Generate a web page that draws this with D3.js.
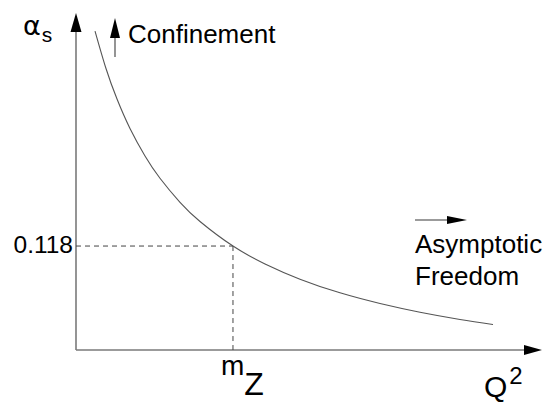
<!DOCTYPE html>
<html>
<head>
<meta charset="utf-8">
<script src="https://cdn.jsdelivr.net/npm/d3@7"></script>
<style>
  html, body { margin: 0; padding: 0; background: #fff; }
  svg { display: block; }
  text { font-family: "Liberation Sans", Arial, Helvetica, sans-serif; fill: #000; }
</style>
</head>
<body>
<svg id="chart" width="543" height="403"></svg>
<script>
// Running coupling alpha_s as a function of Q^2 (schematic units)
const q2Values = [4.09, 6.45, 8.82, 11.61, 14.84, 18.06, 22.37, 26.67, 33.76, 40.65, 48.17, 56.77, 65.38, 73.98, 82.58, 89.68];
const alphaValues = [0.362, 0.3195, 0.2848, 0.2514, 0.2202, 0.1949, 0.1676, 0.1459, 0.118, 0.0977, 0.0804, 0.0649, 0.0528, 0.0429, 0.0347, 0.0289];

// Reference point at the Z mass
const refQ2 = [33.76];
const refAlpha = [0.118];
const refAlphaLabel = ["0.118"];

const svg = d3.select("#chart");

const x = d3.scaleLinear().domain([0, 100]).range([76, 541]);
const y = d3.scaleLinear().domain([0, 0.3825]).range([350, 13]);

const axisColor = "#7a7a7a";

// Axes with arrowheads
const [x0, x1] = x.range();
const [y0, y1] = y.range();
svg.append("line")
  .attr("x1", x0).attr("y1", y0).attr("x2", x1 - 10).attr("y2", y0)
  .attr("stroke", axisColor).attr("stroke-width", 1.6);
svg.append("path")
  .attr("d", `M${x1 + 1},${y0} L${x1 - 17},${y0 - 5} L${x1 - 17},${y0 + 5} Z`)
  .attr("fill", "#000");

svg.append("line")
  .attr("x1", x0).attr("y1", y0).attr("x2", x0).attr("y2", y1 + 10)
  .attr("stroke", axisColor).attr("stroke-width", 1.6);
svg.append("path")
  .attr("d", `M${x0},${y1} L${x0 - 5.5},${y1 + 19} L${x0 + 5.5},${y1 + 19} Z`)
  .attr("fill", "#000");

// Dashed guide lines to the reference point
const rx = x(refQ2[0]);
const ry = y(refAlpha[0]);
svg.append("line")
  .attr("x1", x0).attr("y1", ry).attr("x2", rx).attr("y2", ry)
  .attr("stroke", "#444").attr("stroke-width", 1).attr("stroke-dasharray", "5,4");
svg.append("line")
  .attr("x1", rx).attr("y1", ry).attr("x2", rx).attr("y2", y0)
  .attr("stroke", "#444").attr("stroke-width", 1).attr("stroke-dasharray", "5,4");

// The coupling curve
const pts = q2Values.map((q, i) => [q, alphaValues[i]]);
const line = d3.line()
  .x(d => x(d[0]))
  .y(d => y(d[1]))
  .curve(d3.curveNatural);
svg.append("path")
  .attr("d", line(pts))
  .attr("fill", "none")
  .attr("stroke", "#555")
  .attr("stroke-width", 1.1);

// Axis labels
const alphaLabel = svg.append("text").attr("x", 23).attr("y", 35);
alphaLabel.append("tspan")
  .style("font-family", "'DejaVu Sans', sans-serif")
  .attr("font-size", 27).text("α");
alphaLabel.append("tspan").attr("font-size", 21).attr("dx", 1).attr("dy", 7).text("s");

svg.append("text")
  .attr("x", 73).attr("y", ry + 7)
  .attr("text-anchor", "end")
  .attr("font-size", 24.5)
  .text(refAlphaLabel[0]);

const mzLabel = svg.append("text").attr("x", rx - 12).attr("y", 375);
mzLabel.append("tspan").attr("font-size", 28).text("m");
mzLabel.append("tspan").attr("font-size", 32).attr("dy", 20).text("Z");

const qLabel = svg.append("text").attr("x", 484).attr("y", 397);
qLabel.append("tspan").attr("font-size", 30).text("Q");
qLabel.append("tspan").attr("font-size", 24).attr("dy", -13).attr("dx", 2).text("2");

// Annotation: confinement (upward arrow)
svg.append("line")
  .attr("x1", 115).attr("y1", 57).attr("x2", 115).attr("y2", 36)
  .attr("stroke", axisColor).attr("stroke-width", 1.6);
svg.append("path")
  .attr("d", "M115,18 L110,38 L120,38 Z")
  .attr("fill", "#000");
svg.append("text")
  .attr("x", 128).attr("y", 43)
  .attr("font-size", 26)
  .text("Confinement");

// Annotation: asymptotic freedom (rightward arrow)
svg.append("line")
  .attr("x1", 415).attr("y1", 220).attr("x2", 449).attr("y2", 220)
  .attr("stroke", axisColor).attr("stroke-width", 1.6);
svg.append("path")
  .attr("d", "M467,220 L447,216 L447,224 Z")
  .attr("fill", "#000");
svg.append("text")
  .attr("x", 415).attr("y", 253)
  .attr("font-size", 26)
  .text("Asymptotic");
svg.append("text")
  .attr("x", 415).attr("y", 285)
  .attr("font-size", 26)
  .text("Freedom");
</script>
</body>
</html>
